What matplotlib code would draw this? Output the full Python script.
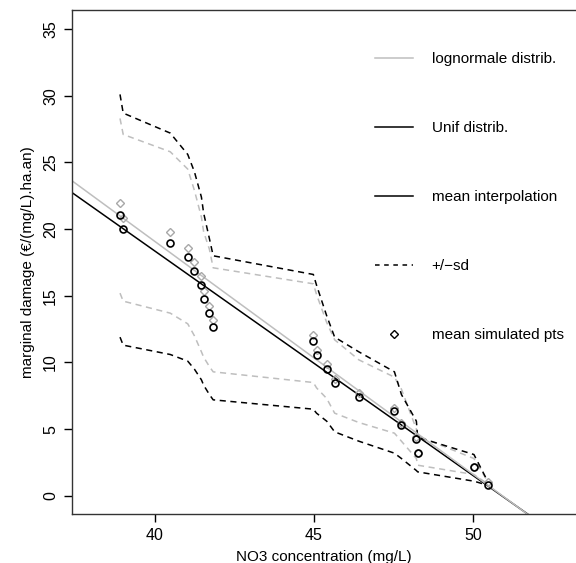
import matplotlib
matplotlib.use("Agg")
import matplotlib.pyplot as plt
from matplotlib.lines import Line2D

plt.rcParams['font.family'] = ['Liberation Sans', 'DejaVu Sans']

# NO3 concentrations of the simulated points
no3 = [38.90, 39.00, 40.48, 41.03, 41.24, 41.46, 41.53, 41.71, 41.83, 44.98,
       45.08, 45.40, 45.65, 46.41, 47.53, 47.75, 48.22, 48.26, 50.03, 50.46]

# uniform distribution: mean simulated points and +/- sd
unif_mean = [21.08, 20.03, 18.98, 17.92, 16.87, 15.79, 14.76, 13.70, 12.65, 11.62,
             10.54, 9.49, 8.46, 7.40, 6.35, 5.29, 4.24, 3.19, 2.13, 0.80]
unif_upper = [30.1, 28.7, 27.2, 25.6, 24.3, 22.4, 21.2, 19.3, 18.0, 16.6,
              15.8, 13.5, 11.9, 10.8, 9.3, 7.6, 5.6, 4.4, 3.1, 1.1]
unif_lower = [11.9, 11.3, 10.6, 10.1, 9.5, 8.7, 8.3, 7.6, 7.2, 6.5,
              6.2, 5.6, 4.8, 4.1, 3.2, 2.8, 1.9, 1.8, 1.1, 0.8]

# lognormal distribution: mean simulated points and +/- sd
logn_mean = [21.96, 20.83, 19.78, 18.62, 17.57, 16.47, 15.36, 14.26, 13.16, 12.05,
             10.97, 9.86, 8.79, 7.68, 6.57, 5.45, 4.39, 3.25, 2.15, 1.05]
logn_upper = [28.3, 27.1, 25.8, 24.5, 22.9, 20.9, 19.8, 18.5, 17.1, 15.9,
              15.1, 13.0, 11.7, 10.2, 8.9, 8.0, 5.0, 4.5, 2.8, 1.1]
logn_lower = [15.2, 14.6, 13.7, 12.9, 12.0, 10.8, 10.4, 9.7, 9.3, 8.5,
              8.1, 7.3, 6.2, 5.5, 4.7, 4.1, 2.8, 2.3, 1.6, 0.9]

# mean interpolation lines (intercept, slope)
unif_fit = (85.63, -1.682)
logn_fit = (88.87, -1.745)

grey = '#bebebe'
dash = (0, (4, 3))

fig = plt.figure(figsize=(5.76, 5.63), dpi=100)
ax = fig.add_axes([72 / 576, 49 / 563, 504 / 576, 504 / 563])

ax.plot(no3, logn_upper, color=grey, lw=1.1, linestyle=dash)
ax.plot(no3, logn_lower, color=grey, lw=1.1, linestyle=dash)
ax.plot(no3, unif_upper, color='black', lw=1.1, linestyle=dash)
ax.plot(no3, unif_lower, color='black', lw=1.1, linestyle=dash)

ax.axline((0, unif_fit[0]), slope=unif_fit[1], color='black', lw=1.1)
ax.axline((0, logn_fit[0]), slope=logn_fit[1], color=grey, lw=1.1)

ax.plot(no3, logn_mean, linestyle='none', marker='D', ms=4.2, mfc='none',
        mec='#a8a8a8', mew=1.0)
ax.plot(no3, unif_mean, linestyle='none', marker='o', ms=5, mfc='none',
        mec='black', mew=1.2)

ax.set_xlim(37.39, 53.24)
ax.set_ylim(-1.36, 36.43)
ax.set_xticks([40, 45, 50])
ax.set_yticks([0, 5, 10, 15, 20, 25, 30, 35])
ax.tick_params(labelsize=11.5, length=6, width=1, pad=4)
for lab in ax.get_yticklabels():
    lab.set_rotation(90)
    lab.set_va('center')
ax.spines['right'].set_visible(False)
for s in ['left', 'top', 'bottom']:
    ax.spines[s].set_linewidth(1.0)
    ax.spines[s].set_color('#333333')

ax.set_xlabel('NO3 concentration (mg/L)', fontsize=11, labelpad=5)
ax.set_ylabel('marginal damage (€/(mg/L).ha.an)', fontsize=11, labelpad=6)

handles = [
    Line2D([], [], color=grey, lw=1.1),
    Line2D([], [], color='black', lw=1.1),
    Line2D([], [], color='black', lw=1.1),
    Line2D([], [], color='black', lw=1.1, linestyle=(0, (3, 3))),
    Line2D([], [], linestyle='none', marker='D', ms=4, mfc='none', mec='black'),
]
labels = ['lognormale distrib.', 'Unif distrib.', 'mean interpolation',
          '+/\u2212sd', 'mean simulated pts']
ax.legend(handles, labels, loc='upper left', bbox_to_anchor=(375 / 576, 1 - 52 / 563),
          bbox_transform=fig.transFigure, frameon=False, fontsize=11,
          handlelength=2.5, handletextpad=1.2, labelspacing=3.6,
          borderpad=0, borderaxespad=0)

fig.savefig('out.png', dpi=100)
